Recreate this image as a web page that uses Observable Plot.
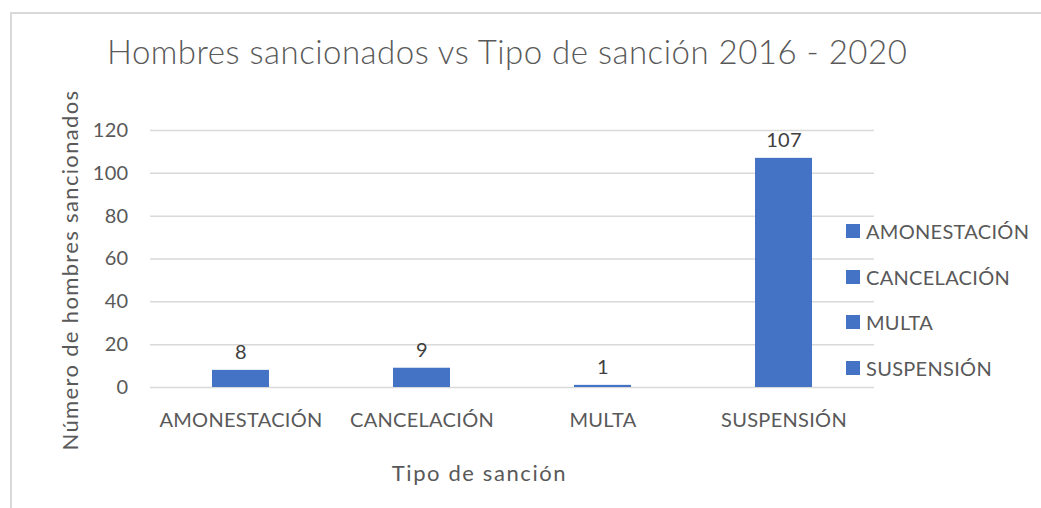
<!DOCTYPE html>
<html>
<head>
<meta charset="utf-8">
<script src="https://cdn.jsdelivr.net/npm/d3@7"></script>
<script src="https://cdn.jsdelivr.net/npm/@observablehq/plot@0.6"></script>
<style>
  html, body { margin: 0; padding: 0; background: #fff; }
  #wrap { position: relative; width: 1041px; height: 508px; overflow: hidden; font-family: Lato, "Open Sans", sans-serif; color: #595959; }
  #frame { position: absolute; left: 10px; top: 12px; width: 1100px; height: 600px; border-left: 2px solid #d9d9d9; border-top: 2px solid #d9d9d9; box-sizing: border-box; }
  #title { position: absolute; left: 107px; top: 31px; font-size: 33px; letter-spacing: 0.5px; font-weight: 300; color: #595959; white-space: nowrap; }
  #ytitle { position: absolute; left: -130px; top: 259px; width: 400px; height: 22px; line-height: 22px; text-align: center; font-size: 22px; letter-spacing: 1.35px; color: #595959; transform: rotate(-90deg); white-space: nowrap; }
  #chart { position: absolute; left: 0; top: 0; }
  #legend { position: absolute; left: 846px; top: 219px; font-size: 20px; letter-spacing: 0.3px; color: #595959; }
  .item { height: 45.6px; display: flex; align-items: flex-start; white-space: nowrap; }
  .sw { width: 14px; height: 14px; background: #4472C4; margin-right: 6px; margin-top: 5px; flex: none; }
  .xtitle text { letter-spacing: 1.6px; }
</style>
</head>
<body>
<div id="wrap">
  <div id="frame"></div>
  <div id="chart"></div>
  <div id="title"></div>
  <div id="ytitle"></div>
  <div id="legend"></div>
</div>
<script>
const titleText = "Hombres sancionados vs Tipo de sanción 2016 - 2020";
const xTitle = "Tipo de sanción";
const yTitle = "Número de hombres sancionados";
const categories = ["AMONESTACIÓN", "CANCELACIÓN", "MULTA", "SUSPENSIÓN"];
const values = [8, 9, 1, 107];
const yTicks = [0, 20, 40, 60, 80, 100, 120];

const data = categories.map((c, i) => ({tipo: c, n: values[i]}));

document.getElementById("title").textContent = titleText;
document.getElementById("ytitle").textContent = yTitle;

const legend = document.getElementById("legend");
categories.forEach(c => {
  const it = document.createElement("div");
  it.className = "item";
  const sw = document.createElement("div");
  sw.className = "sw";
  const lb = document.createElement("span");
  lb.textContent = c;
  it.appendChild(sw); it.appendChild(lb);
  legend.appendChild(it);
});

const font = "Lato, 'Open Sans', sans-serif";
const chart = Plot.plot({
  width: 1041,
  height: 508,
  marginTop: 130,
  marginBottom: 121,
  marginLeft: 150,
  marginRight: 167,
  style: {fontFamily: font, fontSize: "20px", color: "#595959", background: "transparent", overflow: "visible", letterSpacing: "0.3px"},
  x: {domain: categories, paddingInner: 0.685, paddingOuter: 0.3425, align: 0.5},
  y: {domain: [0, 120], ticks: yTicks},
  marks: [
    Plot.gridY(yTicks, {stroke: "#d9d9d9", strokeOpacity: 1, strokeWidth: 1.5}),
    Plot.barY(data, {x: "tipo", y: "n", fill: "#4472C4"}),
    Plot.text(data, {x: "tipo", y: "n", text: d => String(d.n), dy: -18, fill: "#404040", fontSize: 20}),
    Plot.axisY(yTicks, {tickSize: 0, tickPadding: 22, fontSize: 20, label: null, color: "#595959"}),
    Plot.axisX({tickSize: 0, tickPadding: 25, fontSize: 20, label: null, color: "#595959"}),
    Plot.text([xTitle], {frameAnchor: "bottom", dx: -33, dy: 93, fontSize: 22, fill: "#595959", className: "xtitle"})
  ]
});
document.getElementById("chart").appendChild(chart);
</script>
</body>
</html>
